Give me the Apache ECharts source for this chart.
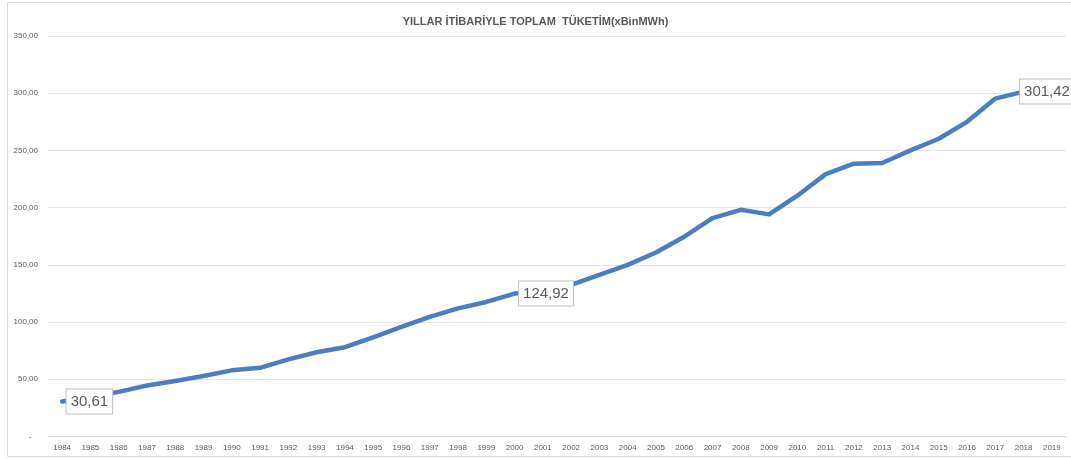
<!DOCTYPE html>
<html>
<head>
<meta charset="utf-8">
<script src="https://cdn.jsdelivr.net/npm/echarts@6/dist/echarts.min.js"></script>
<style>
html,body{margin:0;padding:0;background:#fff;}
#chart{width:1071px;height:459px;}
</style>
</head>
<body>
<div id="chart"></div>
<script>
var titleText = 'YILLAR İTİBARİYLE TOPLAM  TÜKETİM(xBinMWh)';
var years = ['1984','1985','1986','1987','1988','1989','1990','1991','1992','1993','1994','1995','1996','1997','1998','1999','2000','2001','2002','2003','2004','2005','2006','2007','2008','2009','2010','2011','2012','2013','2014','2015','2016','2017','2018','2019'];
var consumption = [30.61,34.6,39.0,44.6,48.5,52.9,57.8,60.0,67.4,73.6,78.0,86.7,95.8,104.6,112.0,117.6,124.92,126.6,132.6,141.2,150.0,160.8,174.6,190.8,198.1,194.1,210.4,229.3,238.4,239.0,250.0,260.2,275.0,295.3,301.42,null];
var labelIndices = [0,16,34];
var yTicks = [0,50,100,150,200,250,300,350];

var FONT = '"Liberation Sans Narrow","Liberation Sans",Arial,sans-serif';
function fmt(v){ return v.toFixed(2).replace('.', ','); }

var seriesData = consumption.map(function(v,i){
  if (labelIndices.indexOf(i) >= 0) {
    return {value:v, label:{show:true, distance: i===34 ? -4 : 4}};
  }
  return v;
});

var chart = echarts.init(document.getElementById('chart'), null, {renderer:'canvas'});
chart.setOption({
  animation:false,
  backgroundColor:'#fff',
  title:{
    text:titleText, left:'center', top:11,
    textStyle:{fontFamily:'"Liberation Sans",Arial,sans-serif', fontSize:11, fontWeight:'bold', color:'#595959'}
  },
  graphic:[{type:'rect', shape:{x:7.5,y:2.5,width:1100,height:454}, style:{fill:'none', stroke:'#d9d9d9', lineWidth:1}, silent:true, z:-1}],
  grid:{left:48, right:5, top:36, bottom:22.5, containLabel:false},
  xAxis:{
    type:'category', data:years, boundaryGap:true,
    axisLine:{show:true, lineStyle:{color:'#d9d9d9', width:1}},
    axisTick:{show:false},
    axisLabel:{color:'#595959', fontSize:8, fontFamily:FONT, margin:7, interval:0}
  },
  yAxis:{
    type:'value', min:yTicks[0], max:yTicks[yTicks.length-1], interval:50,
    axisLine:{show:false}, axisTick:{show:false},
    splitLine:{lineStyle:{color:'#e6e6e6', width:1}},
    axisLabel:{color:'#595959', fontSize:8, fontFamily:FONT, margin:10,
      formatter:function(v){ return v===0 ? '-   ' : fmt(v); }}
  },
  series:[{
    type:'line', data:seriesData, showSymbol:true, showAllSymbol:true, symbol:'circle', symbolSize:1,
    lineStyle:{color:'#4a7ebf', width:4.5, cap:'round', join:'round'},
    itemStyle:{color:'#4a7ebf'},
    label:{show:false, position:'right', formatter:function(p){ return fmt(p.value); },
      color:'#595959', fontSize:15, fontFamily:FONT, lineHeight:18,
      backgroundColor:'#ffffff', borderColor:'#bfbfbf', borderWidth:1, padding:[3,4,3,4]},
    labelLayout:{hideOverlap:false}
  }]
});
</script>
</body>
</html>
